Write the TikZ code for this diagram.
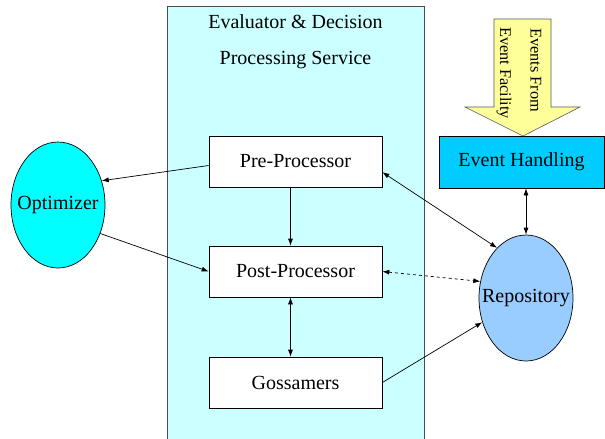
\documentclass[tikz,border=0pt]{standalone}
\usepackage{fontspec}
\setmainfont{Liberation Serif}
\newfontfamily\timesf{Liberation Serif}
\usetikzlibrary{arrows.meta,shapes.geometric}
\definecolor{panelc}{HTML}{CCFFFF}
\definecolor{optc}{HTML}{00FFFF}
\definecolor{repoc}{HTML}{99CCFF}
\definecolor{evhc}{HTML}{00CCFF}
\definecolor{evarrowc}{HTML}{FFFF99}
\begin{document}
\begin{tikzpicture}[x=1pt,y=-1pt,
  font=\timesf\fontsize{20}{24}\selectfont,
  every label/.style={font=\timesf\fontsize{20}{24}\selectfont},
  procbox/.style={draw=black, fill=white, minimum width=173pt, minimum height=51pt, inner sep=0pt, line width=0.7pt},
  blob/.style={ellipse, draw=black, minimum width=94pt, minimum height=126pt, inner sep=0pt, line width=0.7pt},
  conn/.style={line width=0.7pt, -{Latex[length=7pt,width=5pt]}},
  bconn/.style={line width=0.7pt, {Latex[length=7pt,width=5pt]}-{Latex[length=7pt,width=5pt]}},
  vtext/.style={rotate=-90, anchor=west, inner sep=0pt, font=\timesf\fontsize{16.3}{19}\selectfont}]
\useasboundingbox (0,0) rectangle (605,439);
% panel
\fill[panelc] (167,6) rectangle (424,439);
\draw[gray!60!black, line width=0.7pt] (167,439) -- (167,6) -- (424,6) -- (424,439);
\node (t1) at (295.5,22) {Evaluator \& Decision};
\node (t2) at (295.5,60) {Processing Service};
% boxes
\node[procbox] (pre) at (295.5,161.5) {Pre-Processor};
\node[procbox] (post) at (295.5,271.5) {Post-Processor};
\node[procbox] (goss) at (295.5,382.5) {Gossamers};
\node[blob, fill=optc, label=center:Optimizer] (opt) at (58,205) {};
\node[blob, fill=repoc, label=center:Repository] (repo) at (526,298) {};
\node[draw=black, fill=evhc, minimum width=165pt, minimum height=52pt, inner sep=0pt, line width=0.7pt] (evh) at (521.5,162) {Event Handling};
% yellow arrow
\filldraw[fill=evarrowc, draw=gray!70!black, line width=0.6pt] (494,19) -- (551,19) -- (551,107) -- (580,107) -- (523,136) -- (465,107) -- (494,107) -- cycle;
\node[vtext] (ev1) at (536,28) {Events From};
\node[vtext] (ev2) at (504,27) {Event Facility};
% connectors
\draw[conn] ([yshift=-4pt]pre.west) -- (opt.29);
\draw[conn] (opt.-34) -- (post.west);
\draw[conn] ([xshift=-5pt]pre.south) -- ([xshift=-5pt]post.north);
\draw[bconn] ([xshift=-5pt]post.south) -- ([xshift=-5pt]goss.north);
\draw[bconn] (pre.-7) -- (repo.120);
\draw[bconn, dashed] (post.east) -- (repo.160);
\draw[conn] (goss.east) -- (repo.209);
\draw[bconn] (repo.north |- evh.south) -- (repo.north);
\end{tikzpicture}
\end{document}
